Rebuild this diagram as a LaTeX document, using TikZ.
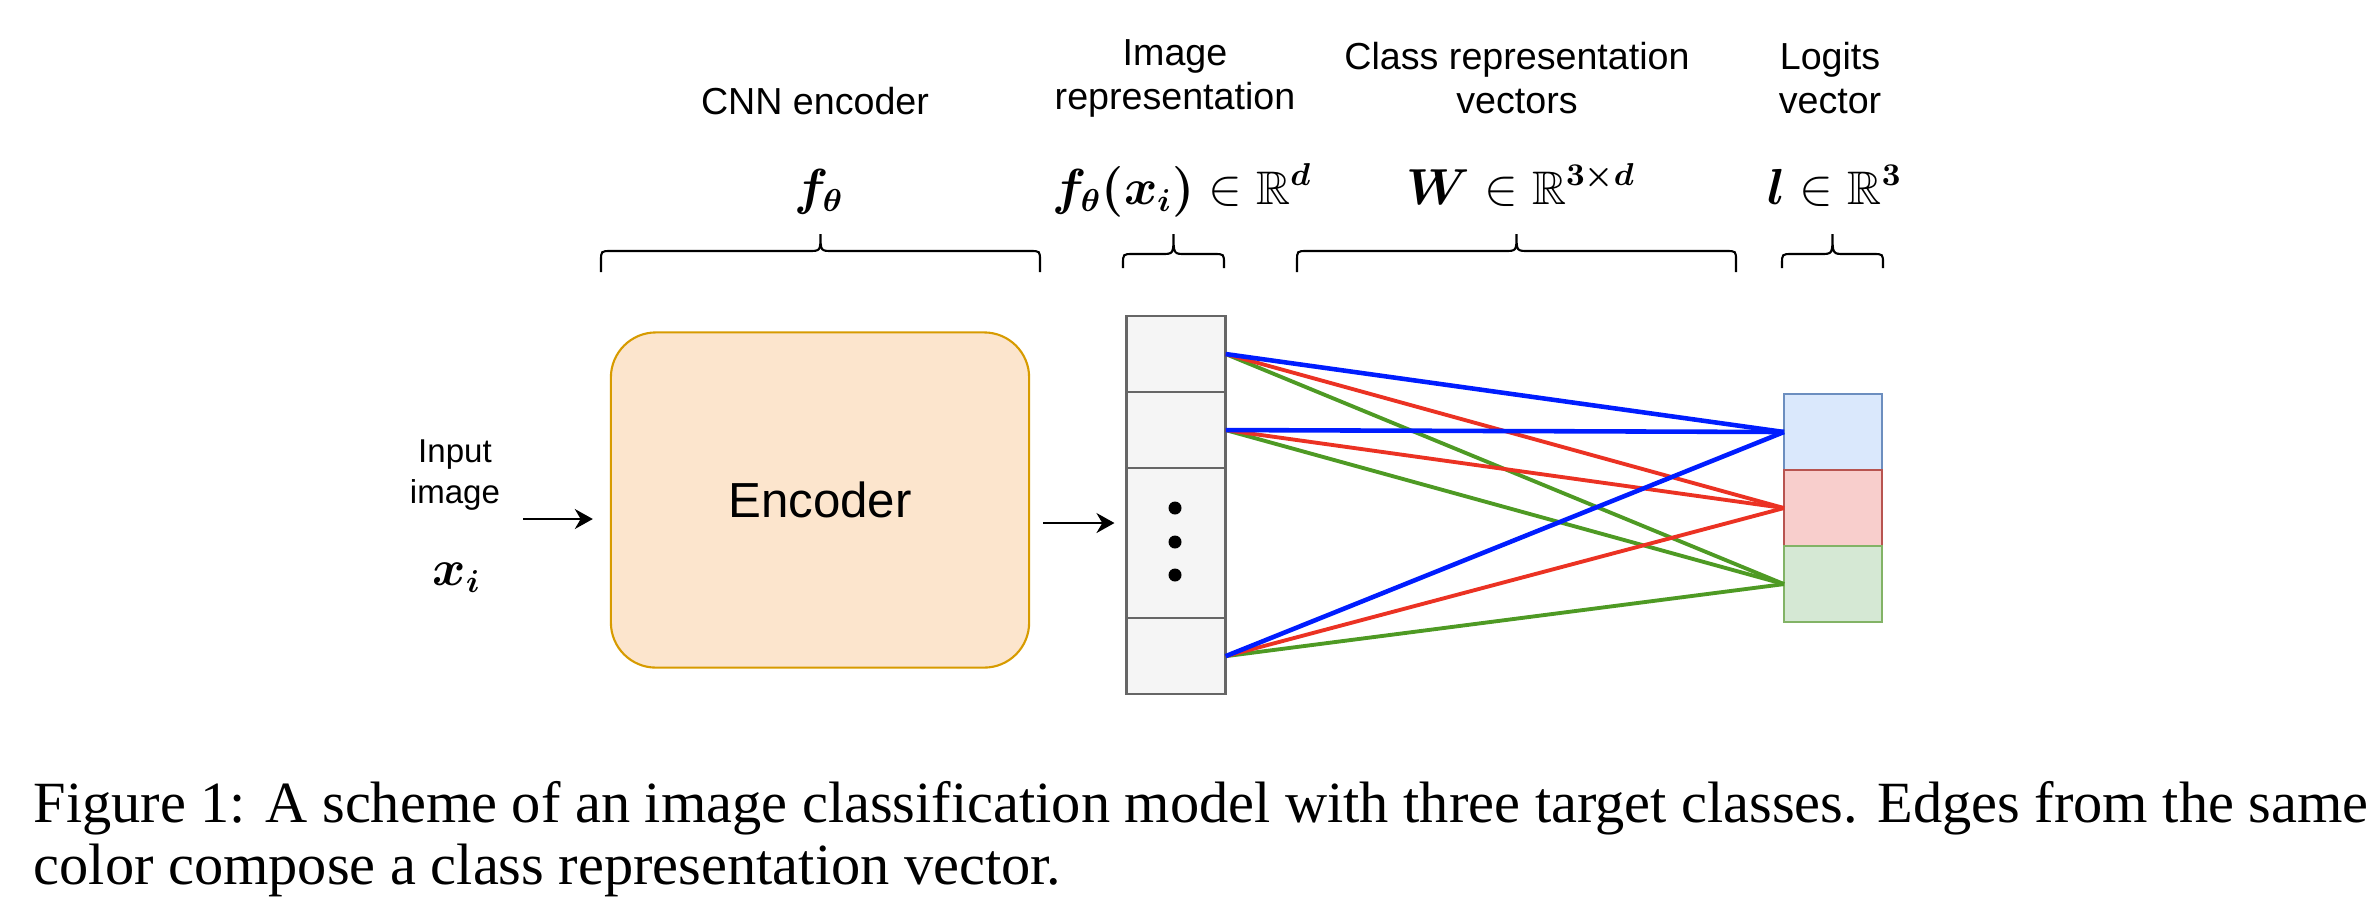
\documentclass[tikz,border=0pt]{standalone}
\usepackage{amsmath,amssymb,bm}
\usepackage[no-math]{fontspec}
\setmainfont{Liberation Serif}
\setsansfont{Liberation Sans}
\usetikzlibrary{positioning,arrows.meta}

\definecolor{encfill}{HTML}{FCE5CD}
\definecolor{encline}{HTML}{D79B00}
\definecolor{cellfill}{HTML}{F5F5F5}
\definecolor{cellline}{HTML}{666666}
\definecolor{bluefill}{HTML}{DAE8FC}
\definecolor{blueline}{HTML}{6C8EBF}
\definecolor{redfill}{HTML}{F8CECC}
\definecolor{redline}{HTML}{B85450}
\definecolor{greenfill}{HTML}{D5E8D4}
\definecolor{greenline}{HTML}{82B366}
\definecolor{bluewt}{HTML}{001DFF}
\definecolor{redwt}{HTML}{EB3223}
\definecolor{greenwt}{HTML}{4E9A24}

% #1 left, #2 right, #3 foot, #4 bar
\newcommand{\topbrace}[4]{%
  \draw[curly] (#1,#3) -- (#1,{#4+10}) .. controls (#1,#4) .. ({#1+10},#4)
    -- ({(#1+#2)/2-12},#4) .. controls ({(#1+#2)/2},#4) .. ({(#1+#2)/2},234)
    .. controls ({(#1+#2)/2},#4) .. ({(#1+#2)/2+12},#4)
    -- ({#2-10},#4) .. controls (#2,#4) .. (#2,{#4+10}) -- (#2,#3);}

\begin{document}
\begin{tikzpicture}[x=0.01cm, y=-0.01cm,
  headlbl/.style={align=center, inner sep=0pt, font=\sffamily\fontsize{10.7}{12.5}\selectfont},
  mathlbl/.style={inner sep=0pt, anchor=base, font=\fontsize{13.4}{16}\selectfont},
  cell/.style={draw=cellline, fill=cellfill, line width=0.6pt, minimum width=0.99cm,
    minimum height=0.76cm, inner sep=0pt, outer sep=0pt},
  logit/.style={line width=0.6pt, minimum width=0.98cm, minimum height=0.76cm,
    inner sep=0pt, outer sep=0pt},
  wt/.style={line width=1.1pt},
  arr/.style={-{Stealth[length=0.18cm,width=0.2cm]}, line width=0.6pt},
  curly/.style={line width=0.6pt}]
  \useasboundingbox (0,0) rectangle (2380,908);

  \node[headlbl] (cnnlbl) at (815,101) {CNN encoder};
  \node[headlbl] (replbl) at (1175,78) {Image\\representation};
  \node[headlbl] (classlbl) at (1517,78) {Class representation\\vectors};
  \node[headlbl] (logitlbl) at (1830,78) {Logits\\vector};

  \node[mathlbl] (fth) at (819,204) {$\bm{f_\theta}$};
  \node[mathlbl] (fx) at (1182,204) {$\bm{f_\theta(x_i)}\in\mathbb{R}^{\bm{d}}$};
  \node[mathlbl] (wlbl) at (1521,204) {$\bm{W}\in\mathbb{R}^{\bm{3\times d}}$};
  \node[mathlbl] (llbl) at (1835,204) {$\bm{l}\in\mathbb{R}^{\bm{3}}$};

  \topbrace{601}{1040}{272}{251}
  \topbrace{1123}{1224}{268}{254}
  \topbrace{1297}{1736}{272}{251}
  \topbrace{1782}{1883}{268}{254}

  \node[align=center, inner sep=0pt, font=\sffamily\fontsize{9.4}{11.4}\selectfont] (inlbl) at (455,475) {Input\\image};
  \node[mathlbl] (xi) at (457,585) {$\bm{x_i}$};

  \node[draw=encline, fill=encfill, line width=0.6pt, rounded corners=0.45cm,
    minimum width=4.18cm, minimum height=3.35cm,
    font=\sffamily\fontsize{14}{16}\selectfont] (enc) at (820,500) {Encoder};

  \node[cell] (v1) at (1176,354) {};
  \node[cell, below=0pt of v1] (v2) {};
  \node[cell, below=0pt of v2, minimum height=1.5cm] (v3) {};
  \node[cell, below=0pt of v3] (v4) {};
  \foreach \y in {508,542,575}
    \fill (1175,\y) circle[radius=0.065cm];

  \node[logit, draw=blueline, fill=bluefill] (l1) at (1833,432) {};
  \node[logit, draw=redline, fill=redfill, below=0pt of l1] (l2) {};
  \node[logit, draw=greenline, fill=greenfill, below=0pt of l2] (l3) {};

  \foreach \s in {v1,v2,v4} {
    \draw[wt, greenwt] (\s.east) -- (l3.west);
    \draw[wt, redwt] (\s.east) -- (l2.west);
    \draw[wt, bluewt, line width=1.3pt] (\s.east) -- (l1.west);
  }

  \coordinate (a1) at (523,519);
  \coordinate (a2) at (1043,523);
  \draw[arr, shorten >=0.17cm] (a1) -- (a1 -| enc.west);
  \draw[arr, shorten >=0.12cm] (a2) -- (a2 -| v3.west);

  \node[anchor=base west, align=left, inner sep=0pt, font=\rmfamily\fontsize{16.6}{17.4}\selectfont] (cap) at (33,884)
    {Figure 1: A scheme of an image classification model with three target classes. Edges from the same\\
     color compose a class representation vector.};
\end{tikzpicture}
\end{document}
